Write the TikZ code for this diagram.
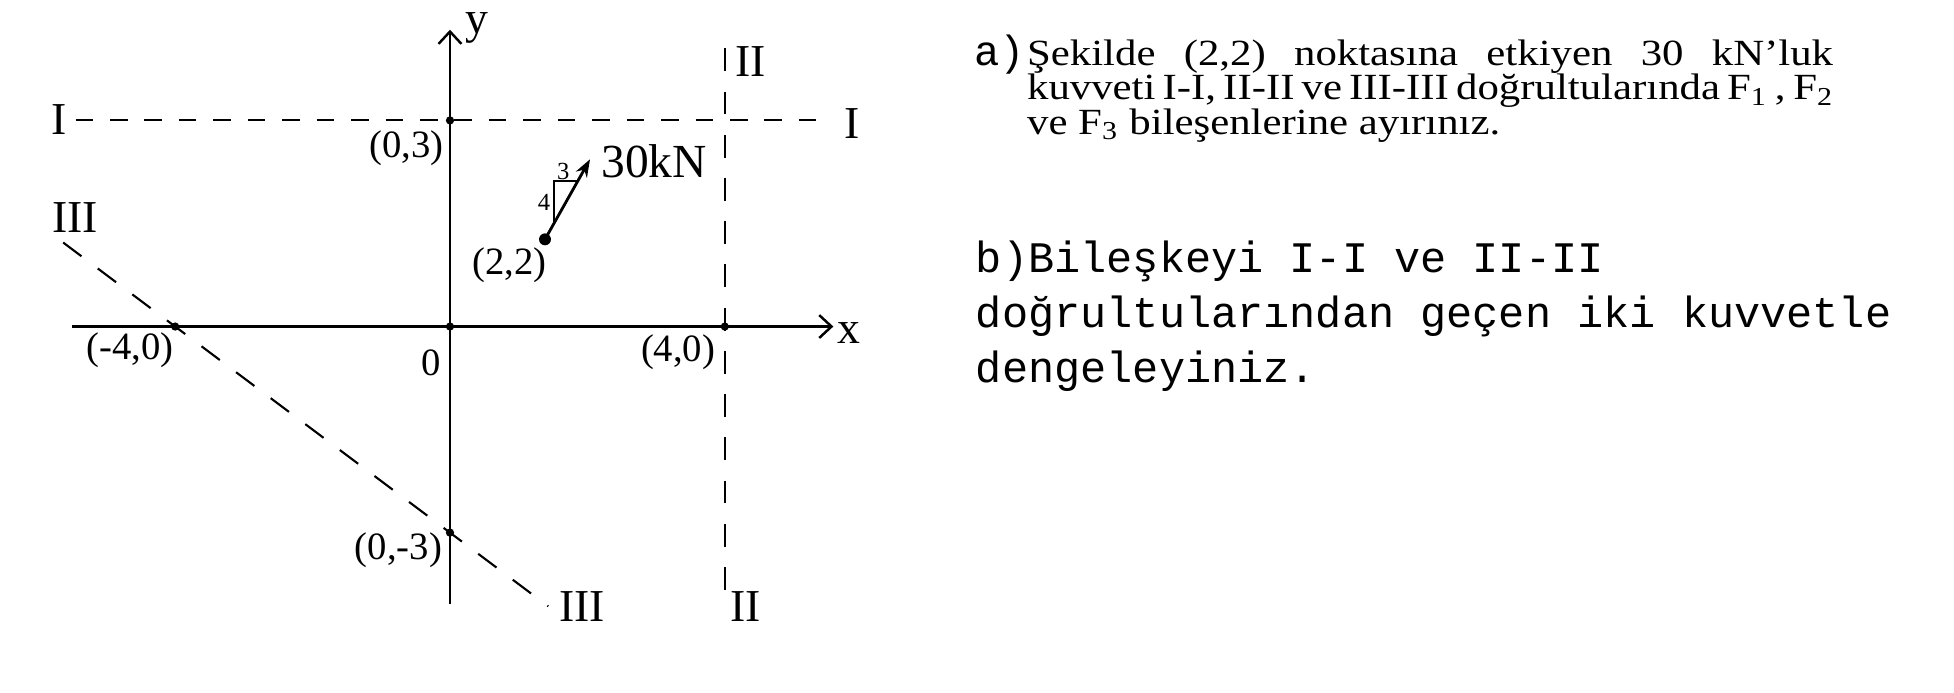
\documentclass[tikz,border=0pt]{standalone}
\usepackage{fontspec}
\setmainfont{Liberation Serif}
\setmonofont{Liberation Mono}
\newfontfamily\scanserif[FakeStretch=1.16]{Liberation Serif}
\usetikzlibrary{arrows.meta}

\tikzstyle{axis} = [line width=0.7pt, -{Straight Barb[length=3.5pt,width=6.5pt]}]
\tikzstyle{guideI} = [line width=0.6pt, dash pattern=on 5pt off 4.8pt]
\tikzstyle{guide} = [line width=0.6pt, dash pattern=on 6.5pt off 5.8pt]
\tikzstyle{coord} = [font=\fontsize{11}{13}\selectfont, inner sep=0pt]
\tikzstyle{roman} = [font=\fontsize{13}{15}\selectfont, inner sep=0pt]
\tikzstyle{serifline} = [anchor=base west, inner sep=0pt, font=\fontsize{10.5}{12}\scanserif]
\tikzstyle{monoline} = [anchor=base west, inner sep=0pt, font=\fontsize{12.4}{14}\selectfont\ttfamily]

\begin{document}
\begin{tikzpicture}[x=0.687cm, y=0.687cm]
\useasboundingbox (-6.55,-5.32) rectangle (21.892,4.753);

% points on the axes
\coordinate (O) at (0,0);
\coordinate (A) at (-4,0);
\coordinate (B) at (4,0);
\coordinate (C) at (0,3);
\coordinate (D) at (0,-3);
\coordinate (xl) at (-5.5,0);
\coordinate (xr) at (5.58,0);
\coordinate (yb) at (0,-4.04);
\coordinate (yt) at (0,4.32);

% axes
\draw[axis] (xl) -- (xr);
\draw[axis] (yb) -- (yt);
\node [roman] (xlab) at (5.8,-0.09) {x};
\node [roman] (ylab) at (0.39,4.34) {y};

% lines I-I, II-II, III-III
\coordinate (Ia) at (-5.45,3);
\coordinate (Ib) at (5.56,3);
\coordinate (IIa) at (4,4.05);
\coordinate (IIb) at (4,-4.08);
\coordinate (IIIa) at (-5.63,1.2225);
\coordinate (IIIb) at (1.43,-4.0725);
\draw[guideI] (Ia) -- (Ib);
\draw[guide] (IIa) -- (IIb);
\draw[guide] (IIIa) -- (IIIb);
\node [roman] (Il) at (-5.69,3.02) {I};
\node [roman] (Ir) at (5.86,2.96) {I};
\node [roman] (IIt) at (4.37,3.86) {II};
\node [roman] (IIbl) at (4.30,-4.08) {II};
\node [roman] (IIIt) at (-5.46,1.59) {III};
\node [roman] (IIIbl) at (1.92,-4.08) {III};

% dots and their labels
\foreach \p in {O,A,B,C,D} \fill (\p) circle (0.06);
\node [coord] (lblC) at (-0.63,2.59) {(0,3)};
\node [coord] (lblA) at (-4.66,-0.34) {(-4,0)};
\node [coord] (lblO) at (-0.28,-0.53) {0};
\node [coord] (lblB) at (3.32,-0.37) {(4,0)};
\node [coord] (lblD) at (-0.75,-3.25) {(0,-3)};

% force at (2,2)
\coordinate (P) at (1.383,1.269);
\coordinate (Q) at (2.038,2.434);
\fill (P) circle (0.087);
\draw[line width=0.8pt, -{Stealth[length=5pt,width=3.6pt]}] (P) -- (Q);
\path (P) -- (Q) coordinate[pos=0.2] (t1) coordinate[pos=0.729] (t2);
\draw[line width=0.3pt] (t1) |- (t2);
\node [coord] (lblP) at (0.87,0.9) {(2,2)};
\node [font=\fontsize{7}{8}\selectfont, inner sep=0pt] (three) at (1.65,2.25) {3};
\node [font=\fontsize{7}{8}\selectfont, inner sep=0pt] (four) at (1.37,1.80) {4};
\node [font=\fontsize{13.5}{15}\selectfont, inner sep=0pt] (force) at (2.97,2.40) {30kN};

% question text
\node [monoline, font=\fontsize{12}{14}\selectfont\ttfamily] (qa) at (7.62,3.80) {a)};
\node [serifline] (qa1) at (8.39,3.80) {\makebox[8.06cm][s]{Şekilde (2,2) noktasına etkiyen 30 kN’luk}};
\node [serifline] (qa2) at (8.39,3.30) {\makebox[8.06cm][s]{kuvveti I-I, II-II ve III-III doğrultularında F\textsubscript{1} , F\textsubscript{2}}};
\node [serifline] (qa3) at (8.39,2.80) {ve F\textsubscript{3} bileşenlerine ayırınız.};
\node [monoline] (qb1) at (7.646,0.79) {b)Bileşkeyi I-I ve II-II};
\node [monoline] (qb2) at (7.646,-0.01) {doğrultularından geçen iki kuvvetle};
\node [monoline] (qb3) at (7.646,-0.81) {dengeleyiniz.};
\end{tikzpicture}
\end{document}
